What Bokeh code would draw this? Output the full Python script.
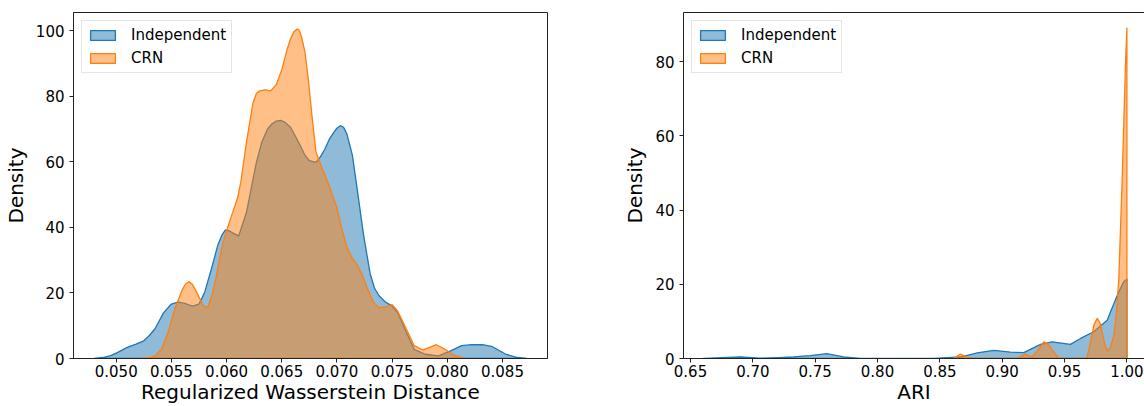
from bokeh.plotting import figure
from bokeh.layouts import row
from bokeh.models import (Range1d, FixedTicker, PrintfTickFormatter, Legend,
                          LegendItem, LinearAxis)
from bokeh.embed import file_html
from bokeh.resources import INLINE

# ---------------- data ----------------
series_names = ["Independent", "CRN"]

# Left panel: Regularized Wasserstein Distance density
wd_ind_x = [0.0480, 0.0488, 0.0495, 0.0501, 0.0510, 0.0518, 0.0525, 0.0530, 0.0535,
            0.0543, 0.0550, 0.0556, 0.0562, 0.0569, 0.0575, 0.0580, 0.0586, 0.0592,
            0.0596, 0.0599, 0.0602, 0.0605, 0.0611, 0.0618, 0.0627, 0.0632, 0.0637,
            0.0641, 0.0645, 0.0649, 0.0653, 0.0658, 0.0662, 0.0667, 0.0671, 0.0675,
            0.0681, 0.0685, 0.0689, 0.0693, 0.0697, 0.0700, 0.0703, 0.0706, 0.0709,
            0.0714, 0.0718, 0.0724, 0.0730, 0.0734, 0.0738, 0.0744, 0.0750, 0.0755,
            0.0763, 0.0770, 0.0780, 0.0792, 0.0803, 0.0813, 0.0822, 0.0832, 0.0841,
            0.0853, 0.0862, 0.0872]
wd_ind_y = [0.0, 0.3, 0.9, 1.8, 3.4, 4.4, 5.4, 7.0, 9.0,
            14.0, 16.6, 17.2, 16.8, 16.0, 16.6, 20.0, 27.0, 34.5,
            37.8, 39.2, 39.0, 38.4, 37.4, 44.5, 59.8, 66.0, 69.9,
            71.5, 72.4, 72.6, 72.0, 70.5, 68.0, 64.8, 62.0, 60.3,
            59.8, 61.5, 63.8, 66.8, 68.9, 70.2, 71.0, 70.5, 68.5,
            62.0, 52.5, 38.0, 26.0, 21.5, 19.2, 17.2, 16.0, 14.0,
            7.9, 2.8, 1.3, 0.8, 2.3, 3.9, 4.2, 4.2, 3.6,
            1.3, 0.4, 0.0]

wd_crn_x = [0.0523, 0.0530, 0.0535, 0.0541, 0.0547, 0.0553, 0.0560, 0.0563, 0.0566,
            0.0569, 0.0573, 0.0579, 0.0583, 0.0587, 0.0591, 0.0596, 0.0601, 0.0606,
            0.0610, 0.0613, 0.0618, 0.0624, 0.0627, 0.0630, 0.0635, 0.0640, 0.0645,
            0.0650, 0.0655, 0.0658, 0.0661, 0.0664, 0.0666, 0.0668, 0.0671, 0.0674,
            0.0678, 0.0681, 0.0686, 0.0692, 0.0700, 0.0704, 0.0709, 0.0714, 0.0718,
            0.0723, 0.0728, 0.0733, 0.0738, 0.0744, 0.0750, 0.0755, 0.0763, 0.0770,
            0.0778, 0.0784, 0.0790, 0.0798, 0.0806, 0.0816]
wd_crn_y = [0.0, 0.3, 0.8, 2.8, 7.9, 15.0, 21.1, 22.8, 23.4,
            22.6, 20.1, 16.0, 15.6, 19.5, 25.5, 34.4, 40.0, 45.0,
            49.0, 54.0, 65.9, 78.0, 80.8, 81.6, 81.9, 81.6, 83.5,
            88.0, 94.4, 97.5, 99.6, 100.5, 100.0, 98.0, 93.5, 85.2,
            72.0, 63.0, 58.5, 53.5, 46.0, 40.0, 34.0, 30.5, 28.8,
            25.5, 21.0, 17.2, 15.5, 15.7, 16.4, 14.5, 8.9, 3.9,
            2.6, 3.4, 4.2, 2.8, 1.0, 0.0]

# Right panel: ARI density
ari_ind_x = [0.6604, 0.675, 0.690, 0.706, 0.720, 0.7326, 0.746, 0.7593, 0.7727,
             0.786, 0.800, 0.830, 0.845, 0.8665, 0.880, 0.8932, 0.9066, 0.9173,
             0.9307, 0.940, 0.9547, 0.9628, 0.9734, 0.9842, 0.9868, 0.9922, 0.9975,
             1.0, 1.0]
ari_ind_y = [0.0, 0.2, 0.45, 0.1, 0.25, 0.45, 0.8, 1.3, 0.45,
             0.05, 0.02, 0.02, 0.05, 0.4, 1.5, 2.2, 1.7, 1.6,
             3.8, 4.5, 3.8, 5.4, 7.2, 10.3, 12.5, 17.0, 20.7,
             21.4, 0.0]

ari_crn_x = [0.861, 0.8665, 0.872, 0.876, 0.9119, 0.9186, 0.924, 0.928, 0.9333,
             0.937, 0.940, 0.944, 0.9467, 0.966, 0.968, 0.9708, 0.9735, 0.9762,
             0.9785, 0.9802, 0.9822, 0.9842, 0.9868, 0.9895, 0.9915, 0.9935, 0.9962,
             0.9989, 1.0, 1.0]
ari_crn_y = [0.0, 1.2, 0.3, 0.0, 0.0, 1.2, 0.4, 2.0, 4.5,
             3.8, 2.3, 0.6, 0.0, 0.0, 0.3, 4.4, 9.0, 10.8,
             9.5, 7.1, 4.0, 2.0, 3.0, 6.2, 12.0, 21.4, 48.4,
             79.8, 89.0, 0.0]

wd_xticks = [0.050, 0.055, 0.060, 0.065, 0.070, 0.075, 0.080, 0.085]
wd_yticks = [0, 20, 40, 60, 80, 100]
ari_xticks = [0.65, 0.70, 0.75, 0.80, 0.85, 0.90, 0.95, 1.00]
ari_yticks = [0, 20, 40, 60, 80]

# ---------------- styling ----------------
FONT = "DejaVu Sans"
BLUE = "#1f77b4"
ORANGE = "#ff7f0e"
LINE = "#222222"


def style_axes(p, xticks, yticks, xfmt, xlabel):
    p.xaxis.ticker = FixedTicker(ticks=xticks)
    p.yaxis.ticker = FixedTicker(ticks=yticks)
    p.xaxis.formatter = PrintfTickFormatter(format=xfmt)
    p.yaxis.formatter = PrintfTickFormatter(format="%d")
    p.xaxis.axis_label = xlabel
    p.yaxis.axis_label = "Density"
    for ax in list(p.xaxis) + list(p.yaxis):
        ax.axis_line_color = LINE
        ax.major_tick_line_color = LINE
        ax.major_tick_out = 4
        ax.major_tick_in = 0
        ax.minor_tick_line_color = None
        ax.major_label_text_font = FONT
        ax.major_label_text_font_size = "15px"
        ax.major_label_text_color = "black"
        ax.axis_label_text_font = FONT
        ax.axis_label_text_font_size = "20px"
        ax.axis_label_text_font_style = "normal"
        ax.axis_label_text_color = "black"
    for ax in p.xaxis:
        ax.major_label_standoff = 2
        ax.axis_label_standoff = 0
    for ax in p.yaxis:
        ax.major_label_standoff = 5
        ax.axis_label_standoff = 5
    p.grid.visible = False


def add_curves(p, xi, yi, xc, yc):
    r1 = p.patch(xi, yi, fill_color=BLUE, fill_alpha=0.5, line_color=BLUE,
                 line_width=1.3, line_join="round")
    r2 = p.patch(xc, yc, fill_color=ORANGE, fill_alpha=0.5, line_color=ORANGE,
                 line_width=1.3, line_join="round")
    leg = Legend(items=[LegendItem(label=series_names[0], renderers=[r1]),
                        LegendItem(label=series_names[1], renderers=[r2])],
                 location="top_left", margin=8, padding=5, spacing=5,
                 label_standoff=13, glyph_width=31, glyph_height=12,
                 label_height=18, label_text_font=FONT,
                 label_text_font_size="15px", label_text_color="black",
                 border_line_color="#cccccc", border_line_width=1,
                 background_fill_alpha=0.8)
    p.add_layout(leg, "center")


p1 = figure(width=568, height=406, x_range=Range1d(0.04613, 0.08908),
            y_range=Range1d(0, 105.5), output_backend="svg", toolbar_location=None,
            min_border_left=73, min_border_right=21, min_border_top=12,
            min_border_bottom=48)
p1.outline_line_color = LINE
p1.outline_line_width = 1
add_curves(p1, wd_ind_x, wd_ind_y, wd_crn_x, wd_crn_y)
style_axes(p1, wd_xticks, wd_yticks, "%.3f", "Regularized Wasserstein Distance")

p2 = figure(width=576, height=406, x_range=Range1d(0.6444, 1.0141),
            y_range=Range1d(0, 93.2), output_backend="svg", toolbar_location=None,
            min_border_left=115, min_border_right=0, min_border_top=12,
            min_border_bottom=48)
p2.outline_line_color = None
add_curves(p2, ari_ind_x, ari_ind_y, ari_crn_x, ari_crn_y)
style_axes(p2, ari_xticks, ari_yticks, "%.2f", "ARI")
top_axis = LinearAxis(ticker=FixedTicker(ticks=[]), major_tick_out=0, major_tick_in=0,
                      minor_tick_out=0, minor_tick_in=0,
                      major_label_text_font_size="0px", major_label_standoff=0,
                      axis_line_color=LINE)
p2.add_layout(top_axis, "above")

layout = row(p1, p2)
open("out.html", "w").write(file_html(layout, INLINE))
